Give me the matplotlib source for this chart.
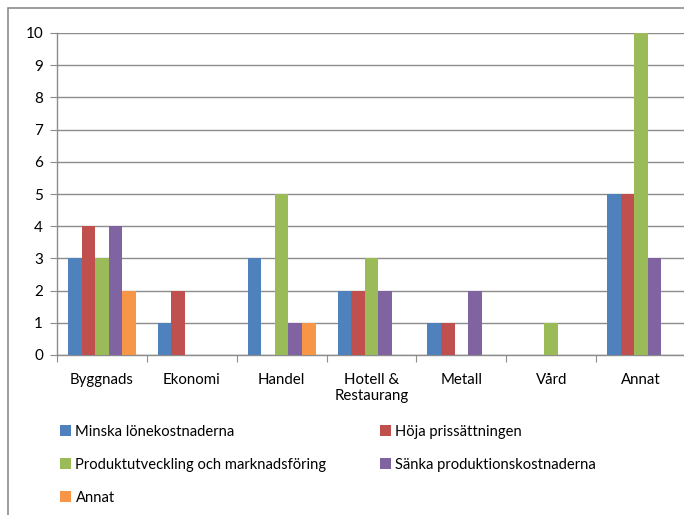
import matplotlib
matplotlib.use("Agg")
import matplotlib.pyplot as plt
from matplotlib.patches import Rectangle, Patch

categories = ["Byggnads", "Ekonomi", "Handel", "Hotell &\nRestaurang", "Metall", "Vård", "Annat"]
series_names = [
    "Minska lönekostnaderna",
    "Höja prissättningen",
    "Produktutveckling och marknadsföring",
    "Sänka produktionskostnaderna",
    "Annat",
]
minska = [3, 1, 3, 2, 1, 0, 5]
hoja = [4, 2, 0, 2, 1, 0, 5]
produkt = [3, 0, 5, 3, 0, 1, 10]
sanka = [4, 0, 1, 2, 2, 0, 3]
annat = [2, 0, 1, 0, 0, 0, 0]
colors = ["#4F81BD", "#C0504D", "#9BBB59", "#8064A2", "#F79646"]
yticks = list(range(0, 11))

plt.rcParams["font.family"] = ["Lato", "DejaVu Sans"]

W, H = 684, 515
fig = plt.figure(figsize=(W / 100, H / 100), dpi=100)
fig.patch.set_facecolor("white")

# outer chart frame
fig.add_artist(Rectangle((8 / W, -0.1), 1.2, (H - 8) / H + 0.1,
                         transform=fig.transFigure, fill=False,
                         edgecolor="#8C8C8C", linewidth=1.2))

ax = fig.add_axes([57 / W, (H - 355) / H, (686 - 57) / W, (355 - 33) / H])
ax.set_facecolor("none")

data = [minska, hoja, produkt, sanka, annat]
bw = 0.151
x = list(range(len(categories)))
for k, (vals, c) in enumerate(zip(data, colors)):
    pos = [i + (k - 2) * bw for i in x]
    ax.bar(pos, vals, width=bw, color=c, edgecolor="none", zorder=3)

ax.set_xlim(-0.5, len(categories) - 0.5)
ax.set_ylim(0, 10)
ax.set_yticks(yticks)
ax.set_yticklabels([str(v) for v in yticks], fontsize=11)
ax.yaxis.grid(True, color="#8C8C8C", linewidth=1.0, zorder=0)

ax.set_xticks([i - 0.5 for i in range(len(categories) + 1)])
ax.set_xticklabels([])
ax.set_xticks(x, minor=True)
ax.set_xticklabels(categories, minor=True, fontsize=10.8, linespacing=1.15)
ax.tick_params(axis="x", which="minor", length=0, pad=13)
ax.tick_params(axis="x", which="major", length=5, color="#8C8C8C", direction="out")
ax.tick_params(axis="y", length=5, color="#8C8C8C", pad=5)

for side in ["top", "right"]:
    ax.spines[side].set_visible(False)
for side in ["left", "bottom"]:
    ax.spines[side].set_color("#8C8C8C")
    ax.spines[side].set_linewidth(1.0)

handles = [Patch(facecolor=c, edgecolor="none") for c in colors]
common = dict(frameon=False, fontsize=10.6, handlelength=0.75, handleheight=0.75,
              handletextpad=0.3, borderpad=0, borderaxespad=0, labelspacing=1.28,
              loc="upper left")
leg1 = fig.legend([handles[0], handles[2], handles[4]],
                  [series_names[0], series_names[2], series_names[4]],
                  bbox_to_anchor=(60 / W, (H - 425) / H), **common)
leg2 = fig.legend([handles[1], handles[3]],
                  [series_names[1], series_names[3]],
                  bbox_to_anchor=(380 / W, (H - 425) / H), **common)

fig.savefig("out.png", dpi=100)
